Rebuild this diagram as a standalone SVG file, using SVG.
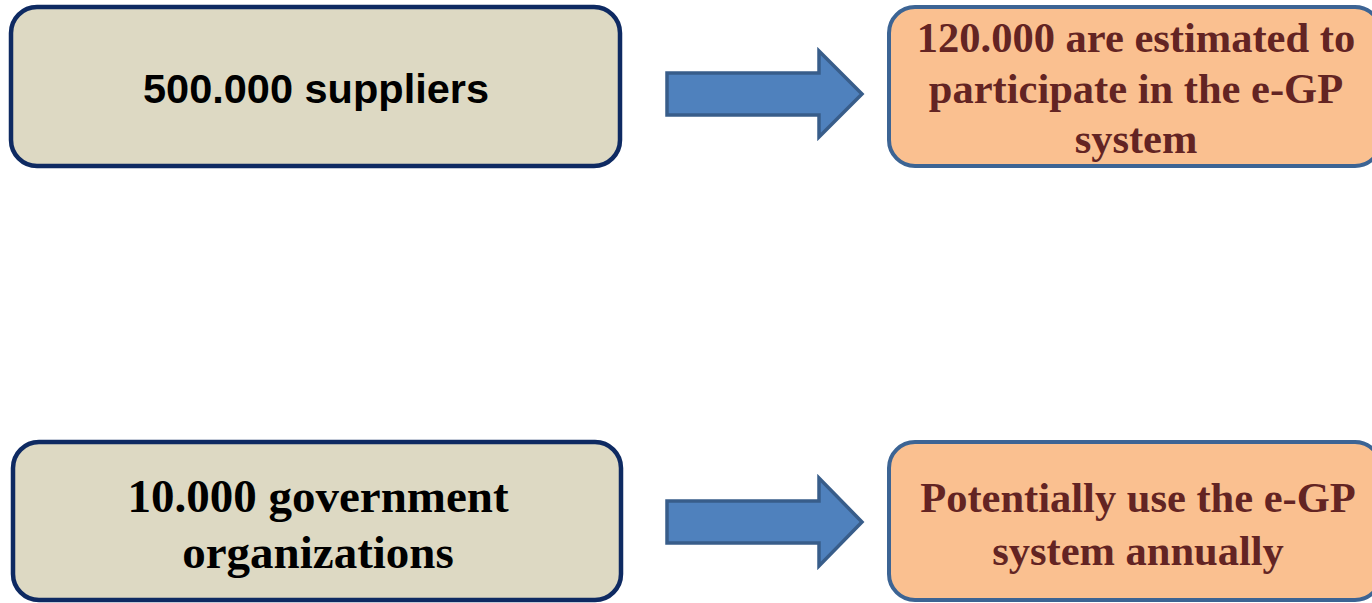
<svg xmlns="http://www.w3.org/2000/svg" width="1372" height="603" viewBox="0 0 1372 603">
<style>
.src{fill:#DDD9C3;stroke:#0E2A62;stroke-width:4.5}
.dst{fill:#FAC090;stroke:#3C6494;stroke-width:4}
.arrow{fill:#4F81BD;stroke:#385D8A;stroke-width:3.5;stroke-linejoin:miter}
.sans{font-family:"Liberation Sans",Arial,sans-serif;font-weight:bold;fill:#000;text-anchor:middle}
.serif{font-family:"Liberation Serif","Times New Roman",serif;font-weight:bold;text-anchor:middle}
.blk{fill:#000}
.red{fill:#632423}
</style>
<rect width="1372" height="603" fill="#FFFFFF"/>
<g id="node-suppliers">
<rect class="src" x="11" y="7" width="609" height="159" rx="26"/>
<text class="sans" x="316" y="103" font-size="41.5">500.000 suppliers</text>
</g>
<g id="node-participate">
<rect class="dst" x="889" y="7" width="492" height="159" rx="26"/>
<text class="serif red" x="1136" y="52" font-size="42.5">120.000 are estimated to</text>
<text class="serif red" x="1136" y="103" font-size="42.5">participate in the e-GP</text>
<text class="serif red" x="1136" y="153" font-size="42.5">system</text>
</g>
<g id="node-government">
<rect class="src" x="13" y="442" width="608" height="158" rx="26"/>
<text class="serif blk" x="318" y="512" font-size="47">10.000 government</text>
<text class="serif blk" x="318" y="568" font-size="47">organizations</text>
</g>
<g id="node-annually">
<rect class="dst" x="889" y="442" width="492" height="158" rx="26"/>
<text class="serif red" x="1138" y="512" font-size="42.5">Potentially use the e-GP</text>
<text class="serif red" x="1138" y="565" font-size="42.5">system annually</text>
</g>
<g id="connectors">
<polygon class="arrow" points="667,73 819,73 819,51 862,94 819,137 819,115 667,115"/>
<polygon class="arrow" points="667,501 819,501 819,478 862,522 819,566 819,543 667,543"/>
</g>
</svg>
